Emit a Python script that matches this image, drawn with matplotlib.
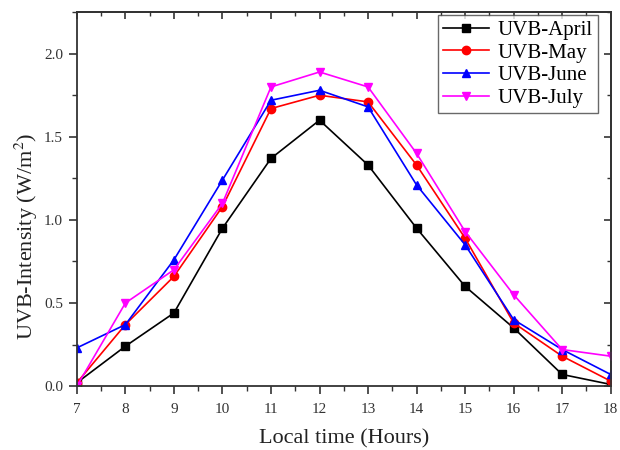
import matplotlib
matplotlib.use("Agg")
import matplotlib.pyplot as plt
from matplotlib.ticker import MultipleLocator

plt.rcParams['font.family'] = ['Liberation Serif', 'DejaVu Serif']
plt.rcParams['mathtext.fontset'] = 'stix'

hours = [7, 8, 9, 10, 11, 12, 13, 14, 15, 16, 17, 18]
uvb_april = [0.02, 0.24, 0.44, 0.95, 1.37, 1.60, 1.33, 0.95, 0.60, 0.35, 0.07, 0.01]
uvb_may = [0.02, 0.37, 0.66, 1.08, 1.67, 1.75, 1.71, 1.33, 0.89, 0.38, 0.18, 0.03]
uvb_june = [0.23, 0.37, 0.76, 1.24, 1.72, 1.78, 1.68, 1.21, 0.85, 0.40, 0.22, 0.07]
uvb_july = [0.00, 0.50, 0.70, 1.10, 1.80, 1.89, 1.80, 1.40, 0.93, 0.55, 0.22, 0.18]

series = [
    ("UVB-April", uvb_april, "black", "s"),
    ("UVB-May", uvb_may, "red", "o"),
    ("UVB-June", uvb_june, "blue", "^"),
    ("UVB-July", uvb_july, "magenta", "v"),
]

fig = plt.figure(figsize=(6.2, 4.5), dpi=100)
ax = fig.add_axes([0.124, 0.142, 0.861, 0.831])

for label, vals, color, marker in series:
    ax.plot(hours, vals, color=color, marker=marker, markersize=6, linewidth=1.2, label=label)

ax.set_xlim(7, 18)
ax.set_ylim(0, 2.25)
ax.set_xticks(hours)
ax.yaxis.set_major_locator(MultipleLocator(0.5))
ax.yaxis.set_minor_locator(MultipleLocator(0.25))
ax.xaxis.set_minor_locator(MultipleLocator(0.5))
ax.tick_params(which='both', direction='out', labelsize=11, labelcolor='#333333', color='#333333')
ax.tick_params(which='major', length=6, width=1.2, pad=4)
ax.tick_params(which='minor', length=3.5, width=1.0)
ax.tick_params(axis='x', pad=6)

# inward ticks on top and right
top = ax.secondary_xaxis('top')
top.set_xticks(hours)
top.xaxis.set_minor_locator(MultipleLocator(0.5))
top.tick_params(which='both', direction='in', labeltop=False, color='#333333')
top.tick_params(which='major', length=5, width=1.2)
top.tick_params(which='minor', length=3, width=1.0)
right = ax.secondary_yaxis('right')
right.yaxis.set_major_locator(MultipleLocator(0.5))
right.yaxis.set_minor_locator(MultipleLocator(0.25))
right.tick_params(which='both', direction='in', labelright=False, color='#333333')
right.tick_params(which='major', length=5, width=1.2)
right.tick_params(which='minor', length=3, width=1.0)

for s in list(ax.spines.values()) + [top.spines['top'], right.spines['right']]:
    s.set_linewidth(1.3)
    s.set_color('#333333')

ax.set_xlabel("Local time (Hours)", fontsize=16, labelpad=10, color='#222222')
ax.set_ylabel("UVB-Intensity (W/m$^{2}$)", fontsize=16, color='#222222')
ax.yaxis.set_label_coords(-0.07, 0.40)

leg = ax.legend(loc='upper right', bbox_to_anchor=(0.976, 0.992), fontsize=15,
                frameon=True, fancybox=False, edgecolor='#444444', handlelength=2.2,
                borderpad=0.25, labelspacing=0.15, borderaxespad=0, handletextpad=0.4)
leg.get_frame().set_linewidth(1.0)

fig.savefig("out.png", dpi=100)
